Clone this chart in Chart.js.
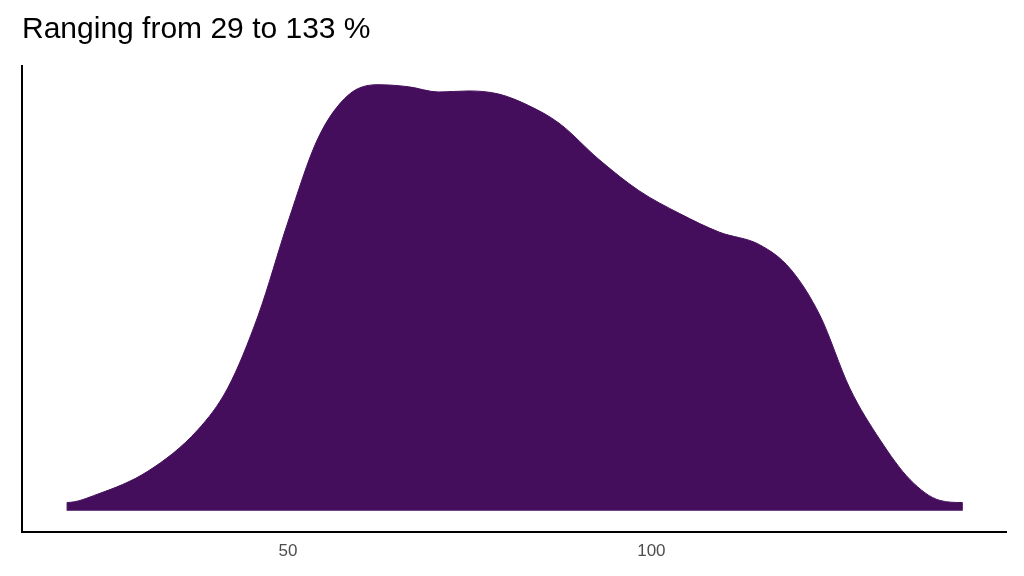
<!DOCTYPE html><html><head><script src="https://cdn.jsdelivr.net/npm/chart.js@4"></script>
<style>body{margin:0;background:#fff}#w{width:1024px;height:576px}</style></head><body><div id="w"><canvas id="c"></canvas></div>
<script>
const xs=[19.6,19.6,23.8,30.7,37.6,41.7,45.9,50,54.1,58.3,62.4,66.6,70.7,74.9,79,83.1,87.3,92.8,98.3,103.9,109.4,114.9,119.1,123.2,127.3,131.5,135.6,139.7,142.8,142.8];
const dens=[0,8,16,38,78,118,188,278,358,400,410,408,403,404,401,390,373,338,308,286,268,256,233,188,118,68,30,10,8,0];
const ticks=[50,100];
new Chart(document.getElementById('c'),{type:'line',
data:{datasets:[{data:xs.map((x,i)=>({x:x,y:dens[i]})),fill:'origin',backgroundColor:'#440e5c',borderColor:'#440e5c',borderWidth:1,pointRadius:0,tension:0.3,cubicInterpolationMode:'monotone'}]},
options:{responsive:true,maintainAspectRatio:false,animation:false,
layout:{padding:{left:22,right:18,top:0,bottom:10}},
plugins:{legend:{display:false},tooltip:{enabled:false},
title:{display:true,text:'Ranging from 29 to 133 %',align:'start',color:'#000',font:{family:'Liberation Sans, Arial',size:30,weight:'normal'},padding:{top:12,bottom:18}}},
scales:{x:{type:'linear',min:13.4,max:148.8,afterBuildTicks:a=>{a.ticks=ticks.map(v=>({value:v}))},
grid:{display:false,drawTicks:true,tickLength:6,tickColor:'#333'},border:{color:'#000',width:2},
ticks:{color:'#4d4d4d',font:{family:'Liberation Sans, Arial',size:17},padding:4}},
y:{min:-20,max:428,ticks:{display:false},grid:{display:false,drawTicks:false},border:{color:'#000',width:2}}}}});
</script></body></html>
